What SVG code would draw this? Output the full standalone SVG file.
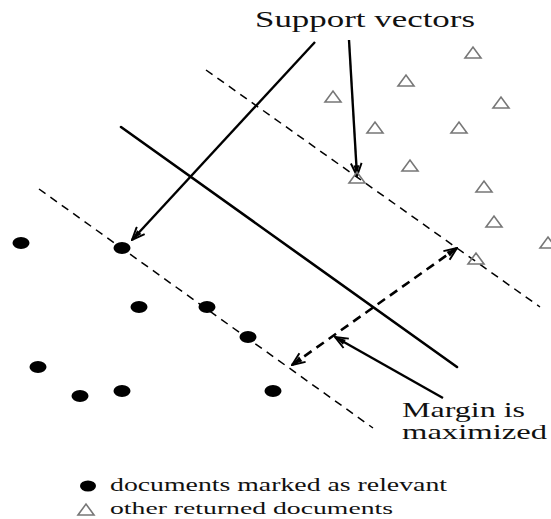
<svg xmlns="http://www.w3.org/2000/svg" width="551" height="519" viewBox="0 0 551 519">
<defs>
<marker id="ah" viewBox="0 0 14 12" refX="13" refY="6" markerWidth="15" markerHeight="13" markerUnits="userSpaceOnUse" orient="auto-start-reverse">
<path d="M1,1 L13,6 L1,11" fill="none" stroke="#000" stroke-width="1.8"/>
<path d="M3,3.3 L13,6 L3,8.7 Z" fill="#000"/>
</marker>
<polygon id="tri" points="-8,5 8,5 0,-6" fill="none" stroke="#777" stroke-width="1.6" stroke-linejoin="miter"/>
</defs>
<style>
.dash{fill:none;stroke:#000;stroke-width:1.5;stroke-dasharray:8 6}
.solid{fill:none;stroke:#000;stroke-width:2.6;stroke-linecap:round}
.arr{fill:none;stroke:#000;stroke-width:2.4;marker-end:url(#ah)}
.darr{fill:none;stroke:#000;stroke-width:2.6;stroke-dasharray:9 6;marker-start:url(#ah);marker-end:url(#ah)}
.dot{fill:#000}
text{font-family:"Liberation Serif","DejaVu Serif",serif;fill:#111}
</style>
<rect width="551" height="519" fill="#fff"/>
<g id="connectors">
<line class="dash" x1="206" y1="70" x2="540" y2="307"/>
<line class="dash" x1="39" y1="189" x2="373" y2="428"/>
<line class="solid" x1="121" y1="127" x2="457" y2="367"/>
<line class="arr" x1="315" y1="42" x2="132" y2="240"/>
<line class="arr" x1="349" y1="40" x2="357" y2="176"/>
<line class="darr" x1="292" y1="365" x2="457" y2="248"/>
<line class="arr" x1="443" y1="398" x2="335" y2="337"/>
</g>
<g id="relevant">
<ellipse class="dot" cx="21" cy="243" rx="8.5" ry="6"/>
<ellipse class="dot" cx="122" cy="248" rx="8.5" ry="6"/>
<ellipse class="dot" cx="139" cy="307" rx="8.5" ry="6"/>
<ellipse class="dot" cx="207" cy="307" rx="8.5" ry="6"/>
<ellipse class="dot" cx="248" cy="337" rx="8.5" ry="6"/>
<ellipse class="dot" cx="38" cy="367" rx="8.5" ry="6"/>
<ellipse class="dot" cx="80" cy="396" rx="8.5" ry="6"/>
<ellipse class="dot" cx="122" cy="391" rx="8.5" ry="6"/>
<ellipse class="dot" cx="273" cy="391" rx="8.5" ry="6"/>
</g>
<g id="others">
<use href="#tri" x="333" y="97"/>
<use href="#tri" x="406" y="81"/>
<use href="#tri" x="473" y="53"/>
<use href="#tri" x="501" y="103"/>
<use href="#tri" x="375" y="128"/>
<use href="#tri" x="459" y="128"/>
<use href="#tri" x="357" y="178"/>
<use href="#tri" x="410" y="166"/>
<use href="#tri" x="484" y="187"/>
<use href="#tri" x="494" y="222"/>
<use href="#tri" x="548" y="243"/>
<use href="#tri" x="476" y="259"/>
</g>
<g id="label-support">
<text x="255" y="27" font-size="23" textLength="220" lengthAdjust="spacingAndGlyphs">Support vectors</text>
</g>
<g id="label-margin">
<text x="402" y="417" font-size="21" textLength="123" lengthAdjust="spacingAndGlyphs">Margin is</text>
<text x="402" y="439" font-size="21" textLength="145" lengthAdjust="spacingAndGlyphs">maximized</text>
</g>
<g id="legend">
<ellipse class="dot" cx="88" cy="486" rx="8" ry="5.5"/>
<text x="110" y="491" font-size="18" textLength="337" lengthAdjust="spacingAndGlyphs">documents marked as relevant</text>
<use href="#tri" x="86" y="510"/>
<text x="110" y="514" font-size="17" textLength="283" lengthAdjust="spacingAndGlyphs">other returned documents</text>
</g>
</svg>
